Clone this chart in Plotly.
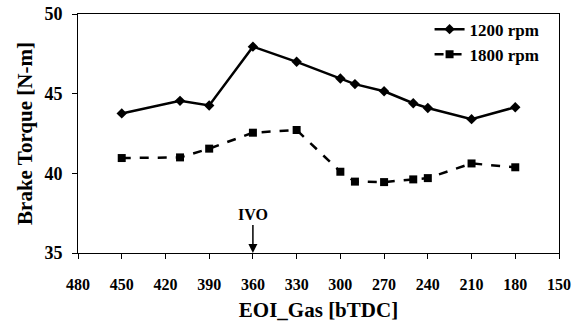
import plotly.graph_objects as go

eoi = [450, 410, 390, 360, 330, 300, 290, 270, 250, 240, 210, 180]
torque_1200 = [43.76, 44.55, 44.26, 47.95, 47.0, 45.95, 45.6, 45.15, 44.4, 44.1, 43.4, 44.15]
torque_1800 = [40.96, 41.0, 41.55, 42.55, 42.72, 40.1, 39.48, 39.45, 39.62, 39.7, 40.62, 40.38]
x_ticks = [480, 450, 420, 390, 360, 330, 300, 270, 240, 210, 180, 150]
y_ticks = [35, 40, 45, 50]

font_fam = "Liberation Serif, Times New Roman, serif"

fig = go.Figure()
fig.add_trace(go.Scatter(
    x=eoi, y=torque_1200, name="1200 rpm", mode="lines+markers",
    line=dict(color="black", width=2.5),
    marker=dict(symbol="diamond", size=8, color="black"),
))
fig.add_trace(go.Scatter(
    x=eoi, y=torque_1800, name="1800 rpm", mode="lines+markers",
    line=dict(color="black", width=2.5, dash="dash"),
    marker=dict(symbol="square", size=8, color="black"),
))

fig.add_annotation(
    x=360, y=35, ax=360, ay=36.75, axref="x", ayref="y",
    text="IVO", showarrow=True, arrowhead=2, arrowsize=1.2, arrowwidth=1.5,
    arrowcolor="black", yanchor="bottom",
    font=dict(family=font_fam, size=16, color="black", weight="bold"),
)

axis_common = dict(
    showline=True, linecolor="black", linewidth=1, mirror=True,
    ticks="outside", ticklen=5, tickcolor="black", showgrid=False, zeroline=False,
    automargin=False,
)

fig.update_layout(
    width=581, height=325,
    margin=dict(l=78, r=22, t=14, b=72),
    paper_bgcolor="white", plot_bgcolor="white",
    font=dict(family=font_fam, color="black", weight="bold"),
    xaxis=dict(
        range=[480, 150], tickvals=x_ticks, ticktext=[str(v) for v in x_ticks],
        tickfont=dict(size=16, family=font_fam, weight="bold"),
        ticklabelstandoff=12,
        title=dict(text="EOI_Gas [bTDC]", font=dict(size=21, family=font_fam, weight="bold"), standoff=10),
        **axis_common,
    ),
    yaxis=dict(
        range=[35, 50], tickvals=y_ticks,
        tickfont=dict(size=18, family=font_fam, weight="bold"),
        ticklabelstandoff=6,
        title=dict(text="Brake Torque [N-m]", font=dict(size=21, family=font_fam, weight="bold"), standoff=6),
        **axis_common,
    ),
    legend=dict(
        x=0.97, y=1.01, xanchor="right", yanchor="top",
        bgcolor="rgba(0,0,0,0)", borderwidth=0,
        font=dict(size=17, family=font_fam, weight="bold"),
        tracegroupgap=0,
    ),
    showlegend=True,
)

fig.write_html("out.html")
